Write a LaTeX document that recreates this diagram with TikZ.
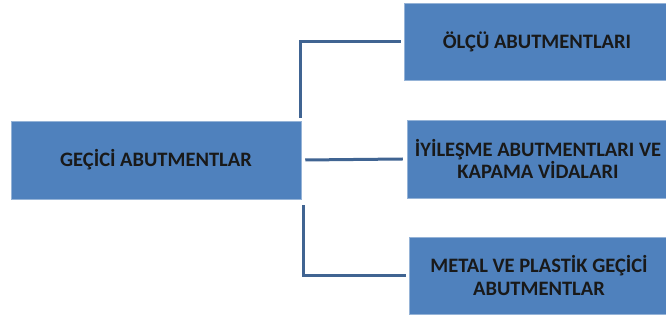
\documentclass[tikz,border=0pt]{standalone}
\usepackage{fontspec}
\setmainfont{Carlito}
\usepackage{xcolor}
\definecolor{boxblue}{HTML}{4F81BD}
\definecolor{linkblue}{RGB}{64,100,146}

\begin{document}
\begin{tikzpicture}[x=1pt,y=1pt,
  box/.style={fill=boxblue,draw=boxblue!60!white,line width=0.5pt,inner sep=0pt,align=center,text=black!90,font=\bfseries\fontsize{20.5}{22.5}\selectfont},
  link/.style={draw=linkblue,line width=3pt}]
\useasboundingbox (0,0) rectangle (666,320);
\clip (0,0) rectangle (666,320);
\node[box,minimum width=290,minimum height=78] (root) at (156,160) {GEÇİCİ ABUTMENTLAR};
\node[box,minimum width=266,minimum height=77] (olcu) at (537,278.5) {ÖLÇÜ ABUTMENTLARI};
\node[box,minimum width=262,minimum height=78] (iyi) at (538,161) {İYİLEŞME ABUTMENTLARI VE\\KAPAMA VİDALARI};
\node[box,minimum width=260,minimum height=77] (metal) at (539,44.5) {METAL VE PLASTİK GEÇİCİ\\ABUTMENTLAR};
\draw[link] ([xshift=-1pt,yshift=3pt]root.north east) |- ([xshift=-3pt]olcu.west);
\draw[link] ([xshift=4pt]root.east) -- ([xshift=-4pt]iyi.west);
\draw[link] ([xshift=2pt,yshift=-6pt]root.south east) |- ([xshift=-3pt]metal.west);
\end{tikzpicture}
\end{document}
